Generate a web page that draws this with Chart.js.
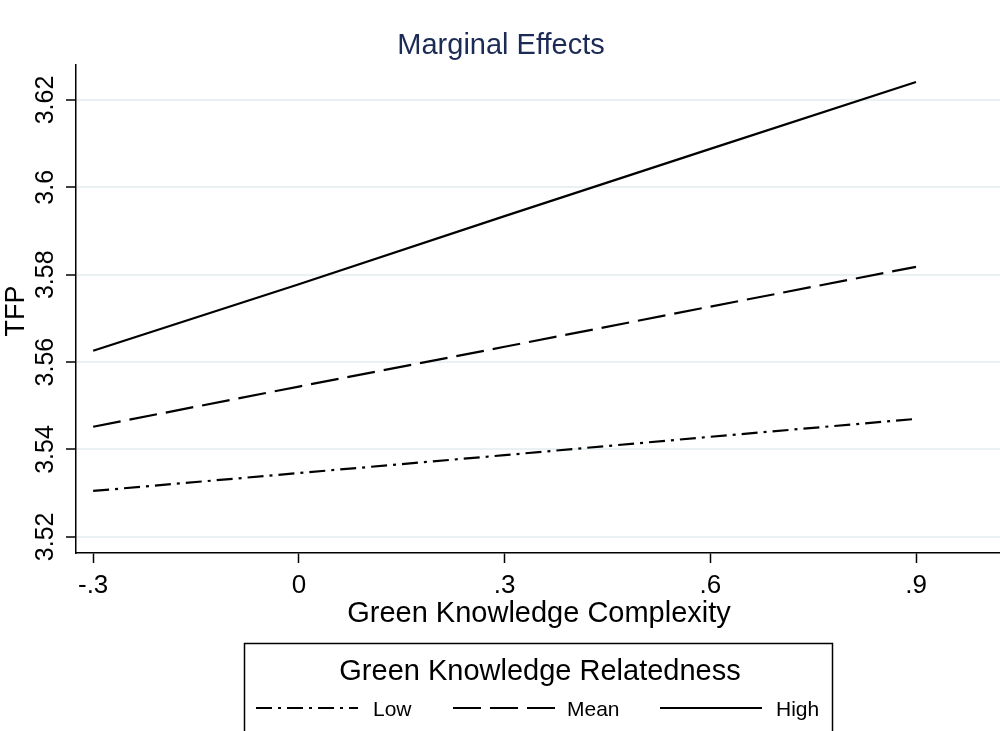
<!DOCTYPE html>
<html>
<head>
<meta charset="utf-8">
<script src="https://cdn.jsdelivr.net/npm/chart.js@4.4.1/dist/chart.umd.min.js"></script>
<style>
  html, body { margin: 0; background: #fff; }
  #wrap { width: 1000px; height: 731px; }
</style>
</head>
<body>
<div id="wrap"><canvas id="effects" width="1000" height="731"></canvas></div>
<script>
const complexity = [-0.3, 0, 0.3, 0.6, 0.9];
const lowTFP = [3.5305, 3.5346, 3.5387, 3.5429, 3.5470];
const meanTFP = [3.5452, 3.5544, 3.5635, 3.5727, 3.5818];
const highTFP = [3.5626, 3.5778, 3.5934, 3.6088, 3.6241];
const seriesNames = ["Low", "Mean", "High"];
const xTicks = [-0.3, 0, 0.3, 0.6, 0.9];
const xTickLabels = ["-.3", "0", ".3", ".6", ".9"];
const yTicks = [3.52, 3.54, 3.56, 3.58, 3.6, 3.62];
const yTickLabels = ["3.52", "3.54", "3.56", "3.58", "3.6", "3.62"];

const FONT = "'Liberation Sans', Arial, sans-serif";

const toPoints = ys => complexity.map((x, i) => ({ x, y: ys[i] }));

const decorations = {
    id: "decorations",
    afterDraw(chart) {
        const ctx = chart.ctx;
        const yScale = chart.scales.y;
        ctx.save();
        ctx.textAlign = "center";
        ctx.textBaseline = "middle";

        // title
        ctx.font = "29px " + FONT;
        ctx.fillStyle = "#1c2b55";
        ctx.fillText("Marginal Effects", 501, 46);

        // y tick labels, rotated like stata
        ctx.fillStyle = "#000";
        ctx.font = "25px " + FONT;
        yTicks.forEach((v, i) => {
            const py = yScale.getPixelForValue(v);
            ctx.save();
            ctx.translate(46, py);
            ctx.rotate(-Math.PI / 2);
            ctx.fillText(yTickLabels[i], 0, 0);
            ctx.restore();
        });

        // axis titles
        ctx.font = "27px " + FONT;
        ctx.save();
        ctx.translate(17, 311);
        ctx.rotate(-Math.PI / 2);
        ctx.fillText("TFP", 0, 0);
        ctx.restore();
        ctx.font = "29px " + FONT;
        ctx.fillText("Green Knowledge Complexity", 539, 614);

        // legend box
        ctx.strokeStyle = "#000";
        ctx.lineWidth = 1.5;
        ctx.strokeRect(244.5, 643.5, 588, 100);
        ctx.fillText("Green Knowledge Relatedness", 540, 672);

        const keyX = [256, 453, 660];
        const textX = [373, 567, 776];
        ctx.font = "21px " + FONT;
        ctx.textAlign = "left";
        chart.data.datasets.forEach((ds, i) => {
            ctx.save();
            ctx.lineWidth = ds.borderWidth;
            ctx.setLineDash(ds.borderDash || []);
            ctx.beginPath();
            ctx.moveTo(keyX[i], 708);
            ctx.lineTo(keyX[i] + 102, 708);
            ctx.stroke();
            ctx.restore();
            ctx.fillText(ds.label, textX[i], 710);
        });
        ctx.restore();
    }
};

new Chart(document.getElementById("effects"), {
    type: "line",
    data: {
        datasets: [
            { label: seriesNames[0], data: toPoints(lowTFP), borderDash: [16, 6, 3, 6] },
            { label: seriesNames[1], data: toPoints(meanTFP), borderDash: [28, 9] },
            { label: seriesNames[2], data: toPoints(highTFP), borderDash: [] }
        ].map(ds => Object.assign(ds, {
            borderColor: "#000",
            borderWidth: 2.2,
            pointRadius: 0,
            tension: 0,
            fill: false
        }))
    },
    options: {
        responsive: false,
        animation: false,
        layout: { padding: { top: 65, right: 0, bottom: 0, left: 0 } },
        plugins: {
            legend: { display: false },
            tooltip: { enabled: false },
            title: { display: false }
        },
        scales: {
            x: {
                type: "linear",
                min: -0.325,
                max: 1.0225,
                afterBuildTicks: s => { s.ticks = xTicks.map(v => ({ value: v })); },
                afterFit: s => { s.height = 178; },
                ticks: {
                    autoSkip: false,
                    maxRotation: 0,
                    color: "#000",
                    padding: 7,
                    font: { family: FONT, size: 26 },
                    callback: (v, i) => xTickLabels[i]
                },
                grid: { drawOnChartArea: false, tickLength: 10, tickColor: "#000", tickWidth: 1.5 },
                border: { display: true, color: "#000", width: 1.5 }
            },
            y: {
                type: "linear",
                min: 3.5163,
                max: 3.628,
                afterBuildTicks: s => { s.ticks = yTicks.map(v => ({ value: v })); },
                afterFit: s => { s.width = 76; },
                ticks: {
                    color: "rgba(0,0,0,0)",
                    font: { family: FONT, size: 21 },
                    callback: (v, i) => yTickLabels[i]
                },
                grid: { color: "#e9f1f3", lineWidth: 2, tickLength: 10, tickColor: "#000", tickWidth: 1.5 },
                border: { display: true, color: "#000", width: 1.5 }
            }
        }
    },
    plugins: [decorations]
});
</script>
</body>
</html>
